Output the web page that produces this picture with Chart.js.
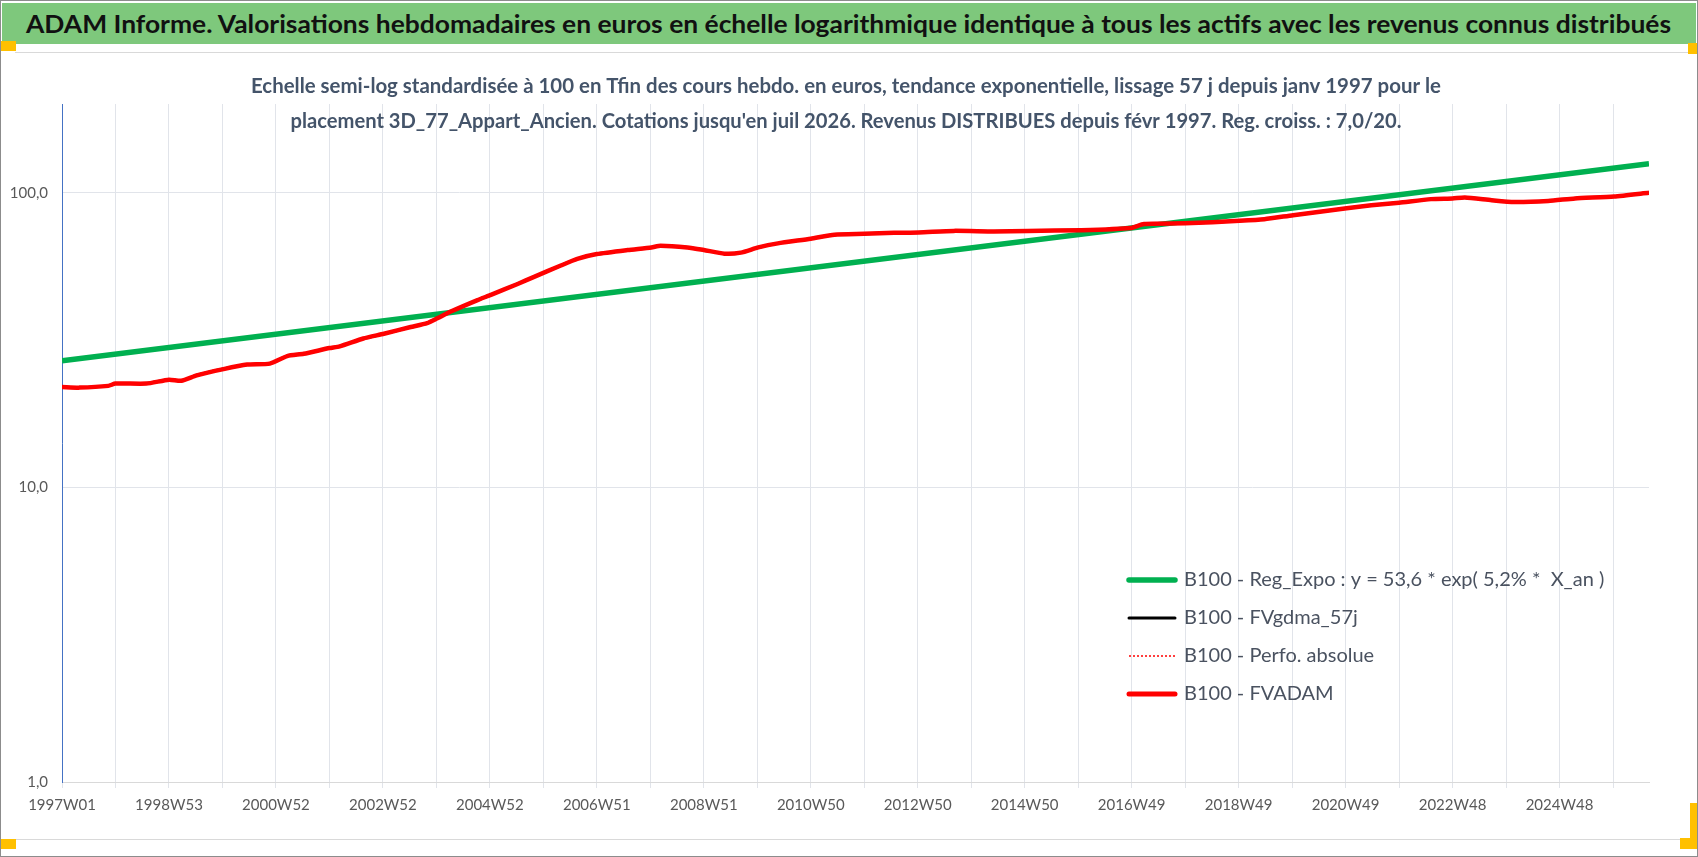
<!DOCTYPE html>
<html lang="fr">
<head>
<meta charset="utf-8">
<title>ADAM Informe</title>
<script src="https://cdn.jsdelivr.net/npm/chart.js@4.4.1/dist/chart.umd.min.js"></script>
<style>
  html, body { margin: 0; padding: 0; background: #fff; }
  body { width: 1698px; height: 857px; position: relative; overflow: hidden; font-family: Lato, "Noto Sans", sans-serif; }
  #frame { position: absolute; left: 0; top: 0; width: 1696px; height: 855px; border: 1px solid #8c8c8c; }
  #titleBar { position: absolute; left: 2px; top: 3px; width: 1694px; height: 41px; background: #7ec87c; }
  #titleText { position: absolute; left: 24px; top: 6px; font-weight: bold; font-size: 24px; color: #111; white-space: nowrap; transform-origin: 0 50%; }
  #box { position: absolute; left: 15px; top: 52px; width: 1674px; height: 786px; border-top: 1px solid #d9d9d9; border-bottom: 1px solid #d9d9d9; }
  .handle { position: absolute; background: #ffc000; }
  #wrap { position: absolute; left: 0; top: 0; width: 1698px; height: 857px; }
</style>
</head>
<body>
<div id="frame"></div>
<div id="titleBar"><span id="titleText">ADAM Informe. Valorisations hebdomadaires en euros en échelle logarithmique identique à tous les actifs avec les revenus connus distribués</span></div>
<div id="box"></div>
<div class="handle" style="left:1px;top:41px;width:15px;height:10px"></div>
<div class="handle" style="left:1px;top:839px;width:15px;height:10px"></div>
<div class="handle" style="left:1688px;top:43px;width:9px;height:11px"></div>
<div class="handle" style="left:1690px;top:803px;width:7px;height:46px"></div>
<div class="handle" style="left:1680px;top:838px;width:17px;height:11px"></div>
<div id="wrap"><canvas id="myChart"></canvas></div>

<script>
// Data (x = week index from 1997W01)
const fvadamWeeks = [0, 17, 45, 52, 82, 104, 116, 131, 157, 180, 202, 219, 235, 260, 270, 293,
    313, 339, 355, 365, 378, 404, 417, 443, 459, 485, 501, 520, 550, 573, 582, 608,
    624, 644, 660, 677, 696, 728, 751, 780, 809, 833, 867, 906, 939, 991, 1039, 1052,
    1092, 1145, 1169, 1197, 1249, 1273, 1300, 1331, 1352, 1364, 1390, 1412, 1445, 1471, 1509, 1543];
const fvadamValues = [21.9, 21.8, 22.1, 22.5, 22.5, 23.2, 23.0, 24.0, 25.2, 26.1, 26.3, 27.9, 28.4, 29.7, 30.1, 32.0,
    33.2, 35.0, 36.1, 37.5, 39.5, 43.2, 45.0, 49.0, 51.8, 56.6, 59.6, 61.9, 63.9, 65.2, 66.1, 65.2,
    63.9, 62.1, 62.6, 65.2, 67.3, 69.8, 72.0, 72.5, 73.1, 73.3, 74.2, 73.9, 74.2, 74.6, 75.9, 78.3,
    78.7, 80.3, 81.3, 83.9, 88.5, 90.6, 92.5, 95.1, 95.6, 96.3, 94.3, 93.0, 93.8, 95.6, 97.1, 100];

// the 57j moving average and the absolute perf sit right under FVADAM at this scale
const gdmaValues = fvadamValues;
const perfoValues = fvadamValues;

const regWeeks = [0, 1543];
const regValues = [26.9, 125.5];

const xMax = 1543;
const xTickLabels = ['1997W01', '1998W53', '2000W52', '2002W52', '2004W52', '2006W51', '2008W51',
    '2010W50', '2012W50', '2014W50', '2016W49', '2018W49', '2020W49', '2022W48', '2024W48'];
const yTicks = [1, 10, 100];
const yTickLabels = ['1,0', '10,0', '100,0'];

const subtitleLines = [
    "Echelle semi-log standardisée à 100 en Tfin des cours hebdo. en euros, tendance exponentielle, lissage 57 j depuis janv 1997 pour le",
    "placement 3D_77_Appart_Ancien. Cotations jusqu'en juil 2026. Revenus DISTRIBUES depuis févr 1997. Reg. croiss. : 7,0/20."
];

function points(xs, ys) {
    return xs.map((x, i) => ({ x: x, y: ys[i] }));
}

// squeeze the title bar text to the width used in the picture
const titleText = document.getElementById('titleText');
const titleW = titleText.getBoundingClientRect().width;
titleText.style.transform = 'scaleX(' + (1645 / titleW) + ')';

// Subtitle, drawn over the plot like the original
const subtitlePlugin = {
    id: 'subtitle',
    afterDraw(chart) {
        const ctx = chart.ctx;
        const cx = 846;
        const ys = [86, 121];
        const widths = [1190, 1111];
        ctx.save();
        ctx.fillStyle = '#44546a';
        ctx.font = 'bold 21px Lato';
        ctx.textAlign = 'center';
        ctx.textBaseline = 'middle';
        subtitleLines.forEach((line, i) => {
            const w = ctx.measureText(line).width;
            ctx.save();
            ctx.translate(cx, ys[i]);
            ctx.scale(Math.min(1, widths[i] / w), 1);
            ctx.fillText(line, 0, 0);
            ctx.restore();
        });
        ctx.restore();
    }
};

// Legend inside the plot, bottom right
const legendOrder = [3, 2, 1, 0];
const legendPlugin = {
    id: 'innerLegend',
    afterDraw(chart) {
        const ctx = chart.ctx;
        legendOrder.forEach((dsIndex, i) => {
            const ds = chart.data.datasets[dsIndex];
            const y = 580 + i * 38;
            ctx.save();
            ctx.strokeStyle = ds.borderColor;
            ctx.lineWidth = ds.legendWidth;
            ctx.setLineDash(ds.borderDash || []);
            ctx.lineCap = ds.borderDash ? 'butt' : 'round';
            ctx.beginPath();
            ctx.moveTo(1129, y);
            ctx.lineTo(1175, y);
            ctx.stroke();
            ctx.fillStyle = '#4a5260';
            ctx.font = '20px Lato';
            ctx.textBaseline = 'middle';
            ctx.fillText(ds.label, 1184, y);
            ctx.restore();
        });
    }
};

const ctx = document.getElementById('myChart').getContext('2d');

const myChart = new Chart(ctx, {
    type: 'line',
    data: {
        datasets: [{
            label: 'B100 - FVADAM',
            data: points(fvadamWeeks, fvadamValues),
            borderColor: '#ff0000',
            borderWidth: 4.5,
            legendWidth: 5,
            tension: 0.2,
            pointRadius: 0,
            order: 0
        }, {
            label: 'B100 - Perfo. absolue',
            data: points(fvadamWeeks, perfoValues),
            borderColor: '#ff0000',
            borderWidth: 1.5,
            legendWidth: 1.5,
            borderDash: [2, 2],
            pointRadius: 0,
            order: 1
        }, {
            label: 'B100 - FVgdma_57j',
            data: points(fvadamWeeks, gdmaValues),
            borderColor: '#000000',
            borderWidth: 3,
            legendWidth: 3,
            tension: 0.2,
            pointRadius: 0,
            order: 2
        }, {
            label: 'B100 - Reg_Expo : y = 53,6 * exp( 5,2% *  X_an )',
            data: points(regWeeks, regValues),
            borderColor: '#00b050',
            borderWidth: 5.5,
            legendWidth: 5.5,
            pointRadius: 0,
            order: 3
        }]
    },
    options: {
        responsive: true,
        maintainAspectRatio: false,
        animation: false,
        events: [],
        layout: {
            padding: { left: 0, top: 104, right: 49, bottom: 35 }
        },
        plugins: {
            legend: { display: false },
            title: { display: false },
            tooltip: { enabled: false }
        },
        scales: {
            x: {
                type: 'linear',
                min: 0,
                max: xMax,
                afterBuildTicks: scale => {
                    const ticks = [];
                    for (let w = 0; w <= xMax; w += 52) ticks.push({ value: w });
                    scale.ticks = ticks;
                },
                afterFit: scale => { scale.height = 40; },
                grid: { color: '#e1e4ea', lineWidth: 1, tickLength: 6 },
                border: { color: '#d9d9d9' },
                ticks: {
                    autoSkip: false,
                    maxRotation: 0,
                    padding: 8,
                    color: '#595959',
                    font: { family: 'Lato', size: 15 },
                    callback: (value, index) => index % 2 === 0 ? xTickLabels[index / 2] : ''
                }
            },
            y: {
                type: 'logarithmic',
                min: 1,
                max: 200,
                afterBuildTicks: scale => {
                    scale.ticks = yTicks.map(v => ({ value: v }));
                },
                afterFit: scale => { scale.width = 62; },
                grid: { color: '#e1e4ea', lineWidth: 1, drawTicks: false },
                border: { color: '#4472c4', width: 1 },
                ticks: {
                    padding: 14,
                    color: '#595959',
                    font: { family: 'Lato', size: 15 },
                    callback: (value, index) => yTickLabels[index]
                }
            }
        }
    },
    plugins: [subtitlePlugin, legendPlugin]
});
</script>
</body>
</html>
